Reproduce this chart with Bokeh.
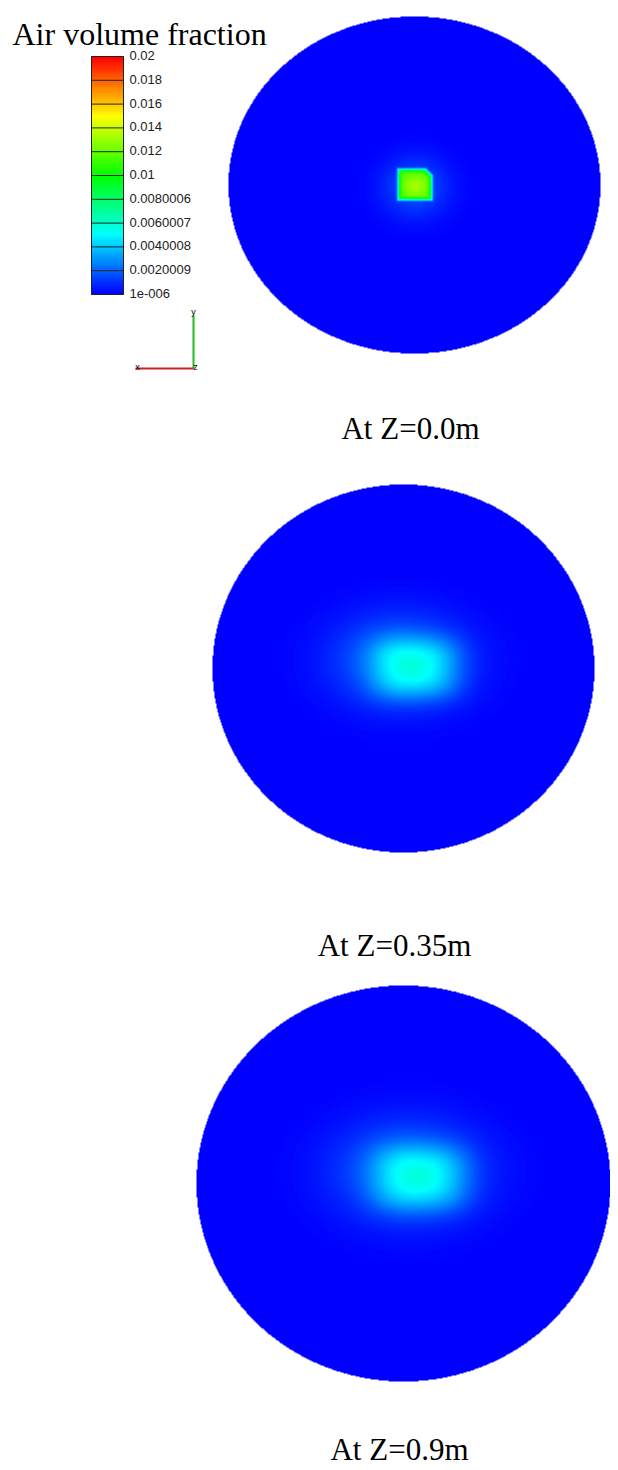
import colorsys
import numpy as np
from bokeh.plotting import figure
from bokeh.models import Range1d, LinearColorMapper
from bokeh.core.properties import value
from bokeh.embed import file_html
from bokeh.resources import INLINE

# ---------------- data ----------------
title_text = "Air volume fraction"
section_labels = ["At Z=0.0m", "At Z=0.35m", "At Z=0.9m"]
vmin, vmax = 1e-6, 0.02
background_value = 1e-6
tick_values = [1e-6, 0.0020009, 0.0040008, 0.0060007, 0.0080006,
               0.01, 0.012, 0.014, 0.016, 0.018, 0.02]
tick_labels = ["1e-006", "0.0020009", "0.0040008", "0.0060007", "0.0080006",
               "0.01", "0.012", "0.014", "0.016", "0.018", "0.02"]
# peak air fraction of the plume components at each section
core_peak = [0.0102, 0.0029, 0.0028]
inner_peak = [0.0012, 0.0004, 0.0004]
halo_peak = [0.0018, 0.0026, 0.0026]

# ---------------- layout / style ----------------
PAGE_H = 1470
W, H = 610, 1470


def Y(py):
    return PAGE_H - py


# ellipse centre (page px) and radii
sections = [(414.0, 184.5, 186.0, 168.5),
            (403.0, 668.0, 191.0, 184.0),
            (403.0, 1183.0, 207.0, 198.0)]
# blob shapes: (dx, dy, sx, sy, power) relative to section centre, page px
core_shape = [(0.5, -0.5, 17.0, 15.5, 12), (12, 0, 44, 31, 3), (17, -5, 47, 33, 3)]
inner_shape = [(1.0, 1.0, 11, 10, 2), (14, 2, 18, 15, 2), (18, -4, 18, 15, 2)]
halo_shape = [(1, 2, 32, 29, 2), (-3, -8, 64, 44, 2), (5, -12, 70, 48, 2)]
label_pos = [(410, 428), (394, 945), (399, 1449)]

palette = []
for i in range(256):
    h = (240.0 * (1 - i / 255.0)) / 360.0
    r, g, b = colorsys.hsv_to_rgb(h, 1, 1)
    palette.append("#%02x%02x%02x" % (int(round(r * 255)), int(round(g * 255)), int(round(b * 255))))

mapper = LinearColorMapper(palette=palette, low=vmin, high=vmax, nan_color=(0, 0, 0, 0))

p = figure(width=W, height=H, output_backend="svg", toolbar_location=None,
           x_range=Range1d(0, W), y_range=Range1d(Y(H), Y(0)),
           min_border=0, outline_line_color=None)
p.axis.visible = False
p.grid.visible = False
p.background_fill_color = "white"
p.border_fill_color = "white"


def gauss(X, PY, cx, cy, shape):
    dx, dy, sx, sy, pw = shape
    return np.exp(-(np.abs((X - cx - dx) / sx) ** pw + np.abs((PY - cy - dy) / sy) ** pw))


def square(X, PY, cx, cy, shape):
    dx, dy, sx, sy, pw = shape
    m = np.maximum(np.abs((X - cx - dx) / sx), np.abs((PY - cy - dy) / sy))
    # chamfered top-right corner of the inlet patch
    c = ((X - cx - dx) - (PY - cy - dy)) / (sx + sy) * 1.25
    m = np.maximum(m, c)
    return np.exp(-m ** pw)


for k, (cx, cy, rx, ry) in enumerate(sections):
    res = 1.0
    xs = np.arange(cx - rx, cx + rx, res) + res / 2
    y0 = Y(cy + ry)
    ys_data = np.arange(y0, y0 + 2 * ry, res) + res / 2
    X, YD = np.meshgrid(xs, ys_data)
    PY = PAGE_H - YD
    inside = ((X - cx) / rx) ** 2 + ((PY - cy) / ry) ** 2 <= 1.0
    if k == 0:
        core = square(X, PY, cx, cy, core_shape[k])
    else:
        core = gauss(X, PY, cx, cy, core_shape[k])
    val = (background_value
           + core_peak[k] * core
           + inner_peak[k] * gauss(X, PY, cx, cy, inner_shape[k]) * core
           + halo_peak[k] * gauss(X, PY, cx, cy, halo_shape[k]))
    val = val.astype(np.float32)
    val[~inside] = np.nan
    p.image(image=[val], x=cx - rx, y=y0, dw=2 * rx, dh=2 * ry, color_mapper=mapper)

    lx, ly = label_pos[k]
    p.text(x=[lx], y=[Y(ly)], text=[section_labels[k]], text_font=value("Liberation Serif"),
           text_font_size="31px", text_align="center", text_baseline="alphabetic",
           text_color="black")

# ---------------- colour bar ----------------
cb_x0, cb_x1 = 91.0, 123.0
cb_top, cb_bot = 56.0, 294.0
cb_h = cb_bot - cb_top
grad = np.linspace(vmin, vmax, 240).reshape(-1, 1).repeat(2, axis=1)
p.image(image=[grad], x=cb_x0, y=Y(cb_bot), dw=cb_x1 - cb_x0, dh=cb_h, color_mapper=mapper)
tick_y = [Y(cb_bot) + (v - vmin) / (vmax - vmin) * cb_h for v in tick_values]
p.segment(x0=[cb_x0] * len(tick_y), y0=tick_y, x1=[cb_x1] * len(tick_y), y1=tick_y,
          line_color="#222222", line_width=1)
p.quad(left=[cb_x0], right=[cb_x1], bottom=[Y(cb_bot)], top=[Y(cb_top)],
       fill_color=None, line_color="#222222", line_width=1)
p.text(x=[129] * len(tick_y), y=tick_y, text=tick_labels, text_font=value("Liberation Sans"),
       text_font_size="13px", text_align="left", text_baseline="middle",
       text_color="#222222", y_offset=-1)

# title
p.text(x=[12], y=[Y(33)], text=[title_text], text_font=value("Liberation Serif"),
       text_font_size="32px", text_align="left", text_baseline="alphabetic", text_color="black")

# ---------------- axis triad ----------------
p.segment(x0=[193], y0=[Y(315)], x1=[193], y1=[Y(368)], line_color="#22bb22", line_width=2)
p.segment(x0=[135], y0=[Y(368)], x1=[193], y1=[Y(368)], line_color="#cc2222", line_width=2)
p.text(x=[193, 137, 195], y=[Y(311), Y(366), Y(366)], text=["y", "x", "z"],
       text_font=value("Liberation Sans"), text_font_size="9px",
       text_align="center", text_baseline="alphabetic", text_color="black")

open("out.html", "w").write(file_html(p, INLINE))
